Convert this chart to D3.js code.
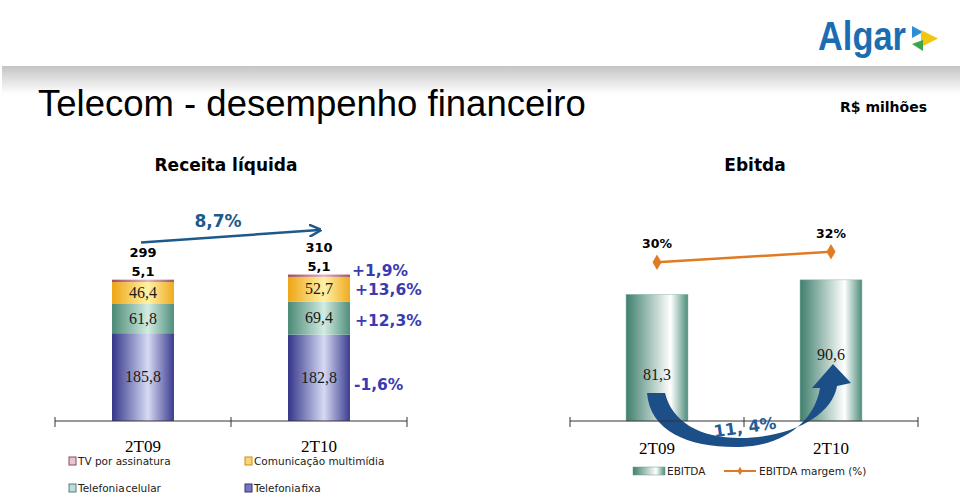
<!DOCTYPE html>
<html><head><meta charset="utf-8">
<script src="https://cdn.jsdelivr.net/npm/d3@7"></script>
<style>body{margin:0;background:#fff;}svg{display:block;}</style>
</head><body>
<svg id="c" width="960" height="501"></svg>
<script>
// ---- data ----
const periods = ["2T09", "2T10"];
const seriesNames = ["Telefonia fixa", "Telefonia celular", "Comunicação multimídia", "TV por assinatura"];
const fixa = [185.8, 182.8];
const celular = [61.8, 69.4];
const multimidia = [46.4, 52.7];
const tvAssinatura = [5.1, 5.1];
const receitaTotal = [299, 310];
const crescimento = ["-1,6%", "+12,3%", "+13,6%", "+1,9%"]; // fixa, celular, multimidia, tv
const crescimentoTotal = "8,7%";
const ebitda = [81.3, 90.6];
const ebitdaMargem = [30, 32];
const crescimentoEbitda = "11, 4%";

const svg = d3.select("#c");
const defs = svg.append("defs");
const fmt = v => d3.format(".1f")(v).replace(".", ",");

function hGrad(id, dark, light, dark2, lightPos) {
  const g = defs.append("linearGradient").attr("id", id).attr("x1", "0").attr("x2", "1").attr("y1", "0").attr("y2", "0");
  g.append("stop").attr("offset", "0%").attr("stop-color", dark);
  g.append("stop").attr("offset", lightPos || "58%").attr("stop-color", light);
  g.append("stop").attr("offset", "100%").attr("stop-color", dark2 || dark);
}
hGrad("gFixa", "#35358a", "#d6daf2", "#3c3c90");
hGrad("gCel", "#4a8a76", "#d2ece2", "#4f8e7c");
hGrad("gMul", "#eea515", "#fff2a6", "#f0aa20");
hGrad("gTv", "#9c4e5e", "#e4b4bc", "#a05866");
hGrad("gEb", "#3f7f6d", "#ffffff", "#4c8c7a", "72%");
const band = defs.append("linearGradient").attr("id", "gBand").attr("x1", "0").attr("x2", "0").attr("y1", "0").attr("y2", "1");
band.append("stop").attr("offset", "0%").attr("stop-color", "#c4c4c4");
band.append("stop").attr("offset", "100%").attr("stop-color", "#ffffff");

// ---- header ----
svg.append("rect").attr("x", 2).attr("y", 66).attr("width", 958).attr("height", 28).attr("fill", "url(#gBand)");
svg.append("text").attr("x", 38).attr("y", 116).attr("font-family", "Liberation Sans, Arial, sans-serif")
  .attr("font-size", 36.5).attr("fill", "#000").text("Telecom - desempenho financeiro");
svg.append("text").attr("x", 927).attr("y", 112).attr("text-anchor", "end").attr("font-family", "DejaVu Sans, Verdana, sans-serif")
  .attr("font-weight", "bold").attr("font-size", 14).text("R$ milhões");
// logo
svg.append("text").attr("x", 818).attr("y", 50).attr("font-family", "Liberation Sans, Arial, sans-serif")
  .attr("font-weight", "bold").attr("font-size", 40).attr("fill", "#1b6db3")
  .attr("textLength", 88).attr("lengthAdjust", "spacingAndGlyphs").text("Algar");
svg.append("path").attr("d", "M912,26 L923,32 L912,38 Z").attr("fill", "#2a8fd6");
svg.append("path").attr("d", "M921,30 L938,38.5 L921,47 Z").attr("fill", "#f2c511");
svg.append("path").attr("d", "M912,44 L923,40 L923,51 Z").attr("fill", "#3aa64a");

const headFont = "DejaVu Sans, Verdana, sans-serif";
svg.append("text").attr("x", 226).attr("y", 171).attr("text-anchor", "middle").attr("font-family", headFont)
  .attr("font-weight", "bold").attr("font-size", 17).text("Receita líquida");
svg.append("text").attr("x", 755).attr("y", 171).attr("text-anchor", "middle").attr("font-family", headFont)
  .attr("font-weight", "bold").attr("font-size", 17).text("Ebitda");

// ---- left chart: stacked ----
const xL = d3.scaleBand().domain(periods).range([55, 407]).paddingInner(0.648).paddingOuter(0.324);
const yL = d3.scaleLinear().domain([0, 320]).range([421, 421 - 320 * 0.4725]);
const rows = periods.map((p, i) => ({ period: p, fixa: fixa[i], celular: celular[i], multimidia: multimidia[i], tv: tvAssinatura[i] }));
const keys = ["fixa", "celular", "multimidia", "tv"];
const fills = { fixa: "url(#gFixa)", celular: "url(#gCel)", multimidia: "url(#gMul)", tv: "url(#gTv)" };
const stack = d3.stack().keys(keys)(rows);
const gL = svg.append("g");
stack.forEach(layer => {
  gL.selectAll(null).data(layer).enter().append("rect")
    .attr("x", d => xL(d.data.period)).attr("width", xL.bandwidth())
    .attr("y", d => yL(d[1])).attr("height", d => yL(d[0]) - yL(d[1]))
    .attr("fill", fills[layer.key]);
  if (layer.key !== "tv") {
    gL.selectAll(null).data(layer).enter().append("text")
      .attr("x", d => xL(d.data.period) + xL.bandwidth() / 2)
      .attr("y", d => (yL(d[0]) + yL(d[1])) / 2 + 5)
      .attr("text-anchor", "middle").attr("font-family", "Liberation Serif, Times New Roman, serif")
      .attr("font-size", 16).attr("fill", "#1a1a1a").text(d => fmt(d.data[layer.key]));
  }
});
// tv labels and totals above
const topLayer = stack[3];
gL.selectAll(null).data(topLayer).enter().append("text")
  .attr("x", d => xL(d.data.period) + xL.bandwidth() / 2).attr("y", d => yL(d[1]) - 4)
  .attr("text-anchor", "middle").attr("font-family", headFont).attr("font-weight", "bold").attr("font-size", 13)
  .text(d => fmt(d.data.tv));
gL.selectAll(null).data(topLayer).enter().append("text")
  .attr("x", d => xL(d.data.period) + xL.bandwidth() / 2).attr("y", (d, i) => yL(d[1]) - 23)
  .attr("text-anchor", "middle").attr("font-family", headFont).attr("font-weight", "bold").attr("font-size", 13)
  .text((d, i) => receitaTotal[i]);
// growth labels right of bar 2
const last = periods.length - 1;
const growOff = [6, 2, 0, -6];
const growDx = [4, 5, 5, 2];
stack.forEach((layer, k) => {
  const d = layer[last];
  gL.append("text").attr("x", xL(periods[last]) + xL.bandwidth() + growDx[k])
    .attr("y", (yL(d[0]) + yL(d[1])) / 2 + 6 + growOff[k])
    .attr("font-family", headFont).attr("font-weight", "bold").attr("font-size", 15.5).attr("fill", "#3b3bb0")
    .text(crescimento[k]);
});
// axis
const axisL = gL.append("g");
axisL.append("line").attr("x1", 55).attr("x2", 407).attr("y1", 421).attr("y2", 421).attr("stroke", "#333");
[55, 55 + xL.step(), 407].forEach(x => axisL.append("line").attr("x1", x).attr("x2", x).attr("y1", 417).attr("y2", 427).attr("stroke", "#333"));
periods.forEach(p => gL.append("text").attr("x", xL(p) + xL.bandwidth() / 2).attr("y", 452).attr("text-anchor", "middle")
  .attr("font-family", "Liberation Serif, Times New Roman, serif").attr("font-size", 17).text(p));
// growth arrow
const a1 = xL(periods[0]) + 30, a2 = xL(periods[1]) + 31;
defs.append("marker").attr("id", "ah").attr("viewBox", "0 0 10 10").attr("refX", 8).attr("refY", 5)
  .attr("markerWidth", 5).attr("markerHeight", 5).attr("orient", "auto")
  .append("path").attr("d", "M0,0 L10,5 L0,10").attr("fill", "none").attr("stroke", "#1c5a8c").attr("stroke-width", 2);
gL.append("line").attr("x1", a1 - 1).attr("y1", 242.5).attr("x2", a2).attr("y2", 230).attr("stroke", "#1c5a8c")
  .attr("stroke-width", 2.5).attr("marker-end", "url(#ah)");
gL.append("text").attr("x", 218).attr("y", 227).attr("text-anchor", "middle").attr("font-family", headFont)
  .attr("font-weight", "bold").attr("font-size", 17).attr("fill", "#1c5a8c").text(crescimentoTotal);

// legend left
const legL = [
  { name: seriesNames[3], fill: "#e9c6ce", stroke: "#8a4a5a", x: 69, y: 461, ws: 0 },
  { name: seriesNames[2], fill: "#f7d774", stroke: "#c89020", x: 245, y: 461, ws: 0 },
  { name: seriesNames[1], fill: "#bcdcdc", stroke: "#5a7a80", x: 69, y: 488, ws: -2.5 },
  { name: seriesNames[0], fill: "#7676c4", stroke: "#33336a", x: 245, y: 488, ws: -2.5 }
];
legL.forEach(l => {
  svg.append("rect").attr("x", l.x).attr("y", l.y - 4).attr("width", 7).attr("height", 8).attr("fill", l.fill).attr("stroke", l.stroke).attr("stroke-width", 1);
  svg.append("text").attr("x", l.x + 9).attr("y", l.y + 4).attr("font-family", "DejaVu Sans, Tahoma, sans-serif")
    .attr("font-size", 10.5).attr("fill", "#222").attr("word-spacing", l.ws).text(l.name);
});

// ---- right chart: ebitda ----
const xR = d3.scaleBand().domain(periods).range([570, 918]).paddingInner(0.644).paddingOuter(0.322);
const yR = d3.scaleLinear().domain([0, 100]).range([421, 421 - 100 * 1.558]);
const yM = d3.scaleLinear().domain([0, 40]).range([421, 421 - 40 * 5.29]);
const gR = svg.append("g");
gR.selectAll(null).data(ebitda).enter().append("rect")
  .attr("x", (d, i) => xR(periods[i])).attr("width", xR.bandwidth())
  .attr("y", d => yR(d)).attr("height", d => yR(0) - yR(d)).attr("fill", "url(#gEb)")
  .attr("stroke", "#8fb8ac").attr("stroke-width", 0.5);
const ebLabelY = [375, 355];
gR.selectAll(null).data(ebitda).enter().append("text")
  .attr("x", (d, i) => xR(periods[i]) + xR.bandwidth() / 2).attr("y", (d, i) => ebLabelY[i] + 5)
  .attr("text-anchor", "middle").attr("font-family", "Liberation Serif, Times New Roman, serif")
  .attr("font-size", 16).attr("fill", "#1a1a1a").text(d => fmt(d));
// margin line
const cx = i => xR(periods[i]) + xR.bandwidth() / 2;
gR.append("path").datum(ebitdaMargem).attr("d", d3.line().x((d, i) => cx(i)).y(d => yM(d)))
  .attr("fill", "none").attr("stroke", "#e07b24").attr("stroke-width", 2.5);
gR.selectAll(null).data(ebitdaMargem).enter().append("path")
  .attr("d", d3.symbol(d3.symbolDiamond, 70)).attr("transform", (d, i) => `translate(${cx(i)},${yM(d)})`).attr("fill", "#e07b24");
gR.selectAll(null).data(ebitdaMargem).enter().append("text")
  .attr("x", (d, i) => cx(i)).attr("y", d => yM(d) - 14).attr("text-anchor", "middle")
  .attr("font-family", headFont).attr("font-weight", "bold").attr("font-size", 12.5).text(d => d + "%");
// big curved arrow
const c1 = cx(0), c2 = cx(1);
const arrowD = `M${c1 - 10},393 C${c1 - 7},432 ${c1 + 33},448 ${c1 + 83},447 ` +
  `C${c1 + 128},446 ${c2 - 16},420 ${c2 - 11},388 ` +
  `L${c2 - 19},388 L${c2 + 2},364 L${c2 + 20},383 L${c2 + 6},386 ` +
  `C${c2 + 1},416 ${c1 + 133},438 ${c1 + 83},438 C${c1 + 43},438 ${c1 + 15},422 ${c1 + 8},393 Z`;
gR.append("path").attr("d", arrowD).attr("fill", "#1c4e87");
// axis
gR.append("line").attr("x1", 570).attr("x2", 918).attr("y1", 421).attr("y2", 421).attr("stroke", "#333");
gR.append("text").attr("x", 745).attr("y", 433).attr("text-anchor", "middle").attr("transform", "rotate(-8,745,428)")
  .attr("font-family", headFont).attr("font-weight", "bold").attr("font-size", 16.5).attr("fill", "#1f5c98")
  .text(crescimentoEbitda);
[570, 570 + xR.step(), 918].forEach(x => gR.append("line").attr("x1", x).attr("x2", x).attr("y1", 417).attr("y2", 427).attr("stroke", "#333"));
periods.forEach((p, i) => gR.append("text").attr("x", cx(i)).attr("y", 454).attr("text-anchor", "middle")
  .attr("font-family", "Liberation Serif, Times New Roman, serif").attr("font-size", 17).text(p));
// legend right
svg.append("rect").attr("x", 633).attr("y", 467).attr("width", 32).attr("height", 8).attr("fill", "url(#gEb)").attr("stroke", "#6a9a8c").attr("stroke-width", 0.5);
svg.append("text").attr("x", 667).attr("y", 475).attr("font-family", "DejaVu Sans, Tahoma, sans-serif").attr("font-size", 10.5).attr("fill", "#222").text("EBITDA");
svg.append("line").attr("x1", 724).attr("x2", 756).attr("y1", 471).attr("y2", 471).attr("stroke", "#e07b24").attr("stroke-width", 2);
svg.append("path").attr("d", d3.symbol(d3.symbolDiamond, 22)).attr("transform", "translate(740,471)").attr("fill", "#e07b24");
svg.append("text").attr("x", 759).attr("y", 475).attr("font-family", "DejaVu Sans, Tahoma, sans-serif").attr("font-size", 10.5).attr("fill", "#222").text("EBITDA margem (%)");
</script>
</body></html>
